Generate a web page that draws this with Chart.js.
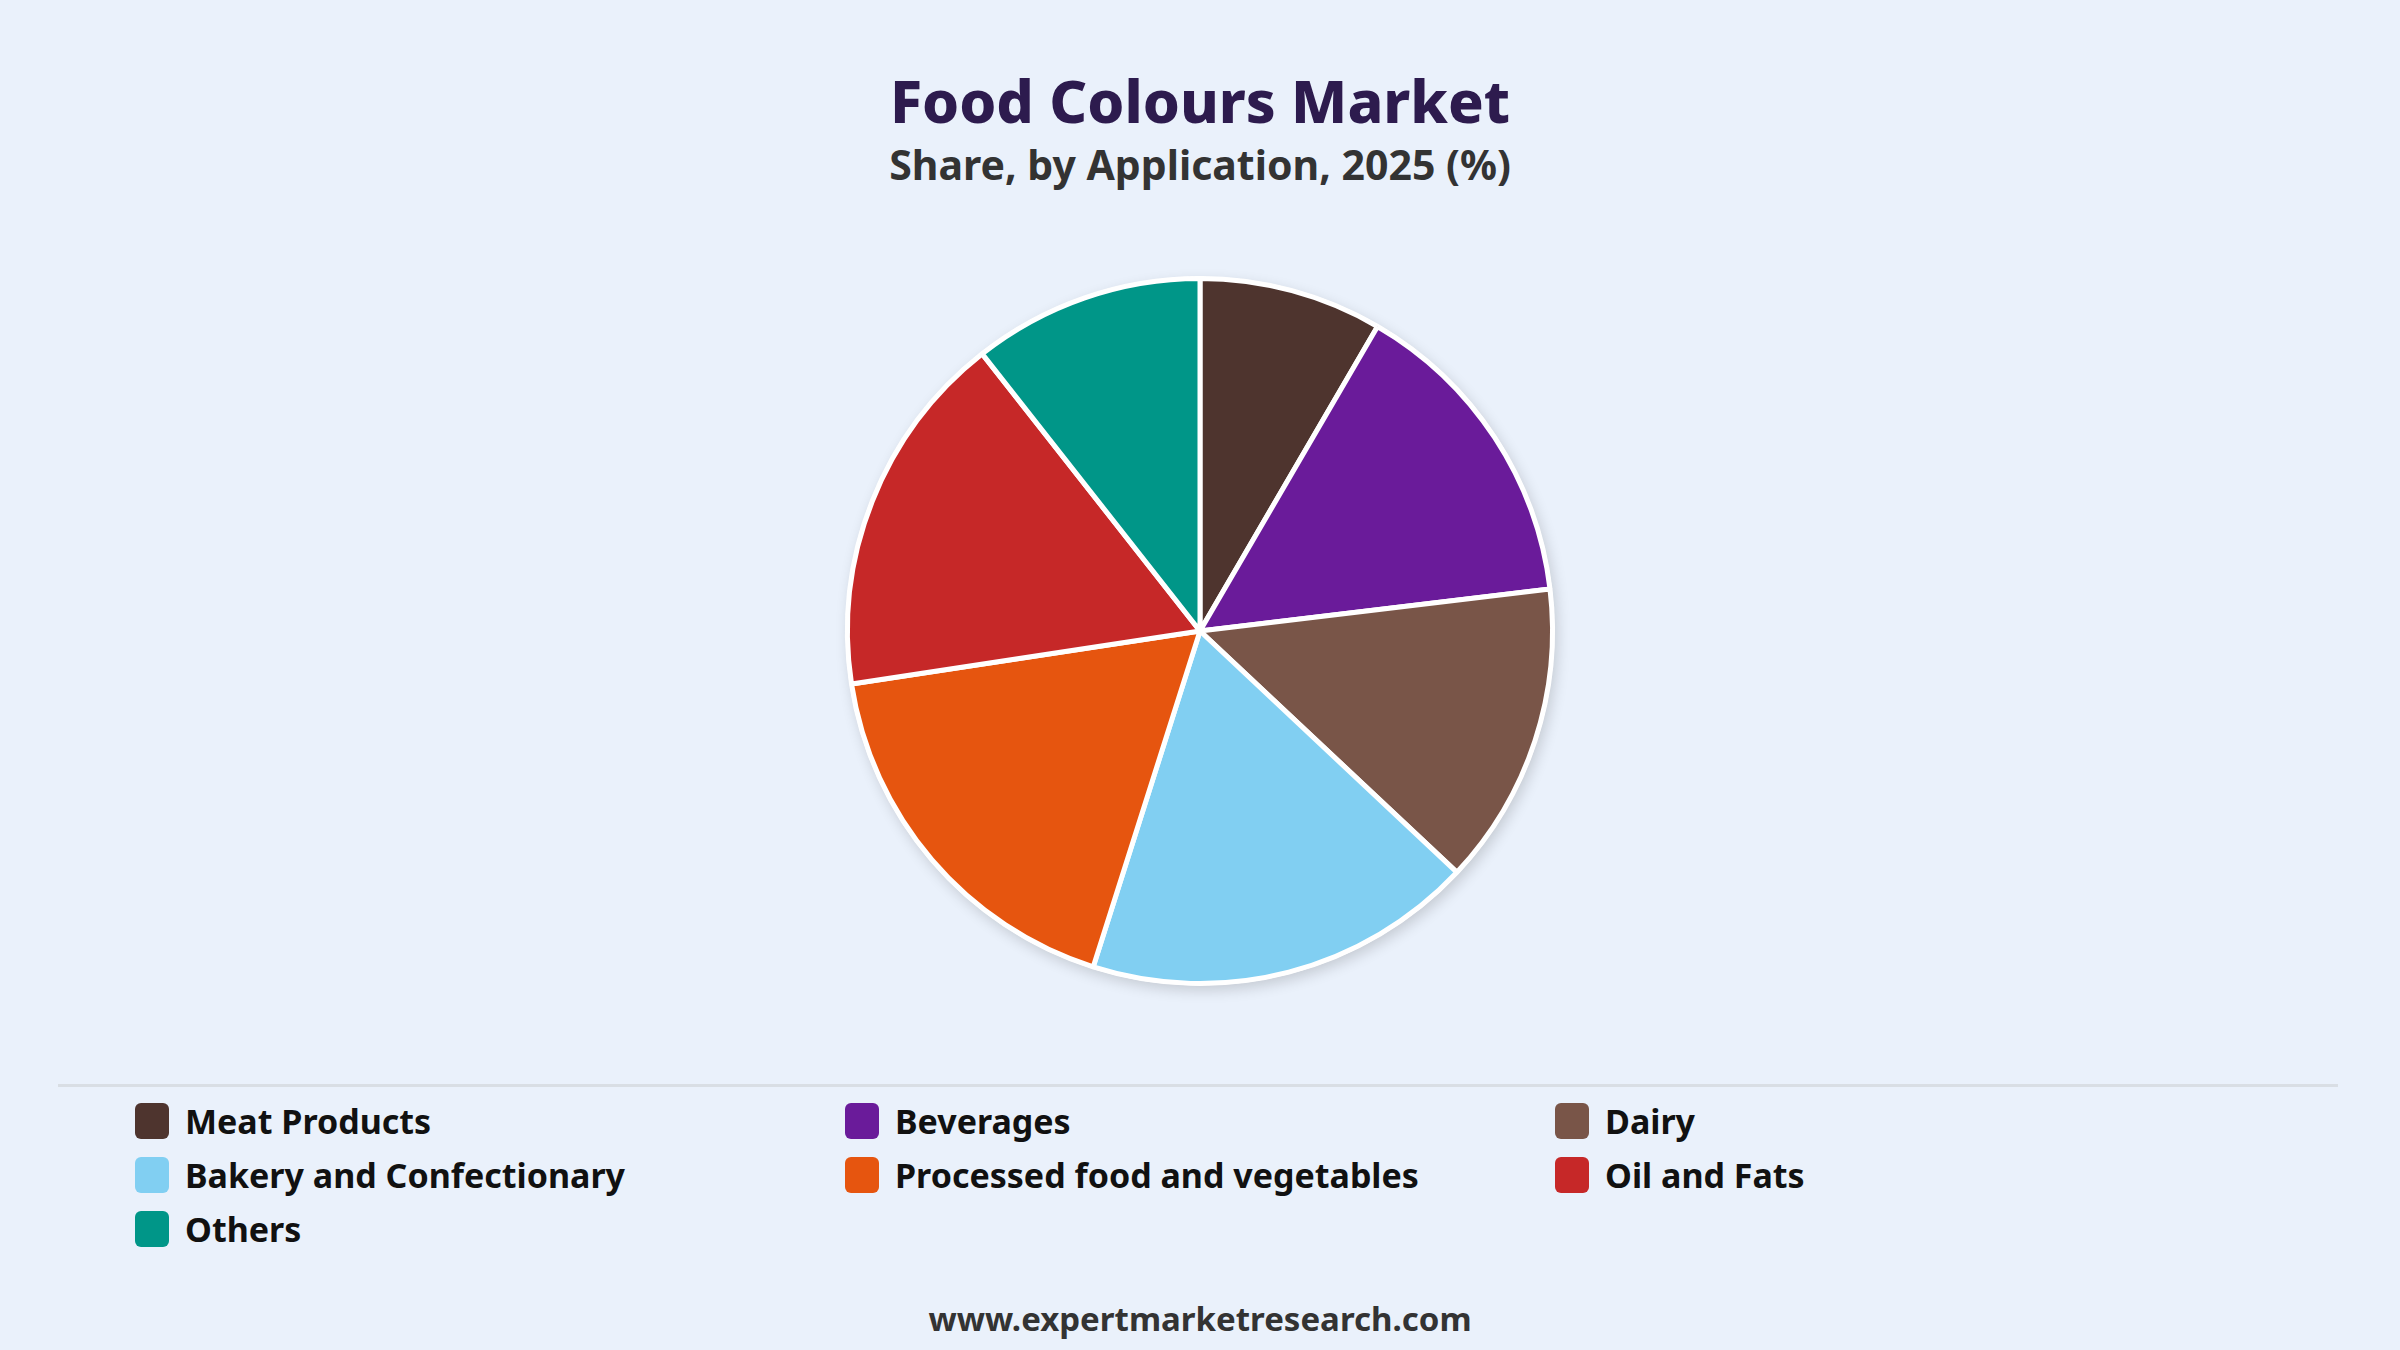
<!DOCTYPE html>
<html>
<head>
<meta charset="utf-8">
<script src="https://cdn.jsdelivr.net/npm/chart.js@4"></script>
<style>
    html, body { margin: 0; padding: 0; }
    body {
        width: 2400px;
        height: 1350px;
        background: #eaf1fb;
        position: relative;
        overflow: hidden;
        font-family: "Noto Sans", sans-serif;
    }
    #title {
        position: absolute; left: 0; width: 2400px; top: 60px;
        text-align: center; font-size: 59px; font-weight: 800; color: #2d1b4e;
        line-height: 80px;
    }
    #subtitle {
        position: absolute; left: 0; width: 2400px; top: 134px;
        text-align: center; font-size: 41px; font-weight: 700; color: #333;
        line-height: 60px;
    }
    #chartBox { position: absolute; left: 0; top: 236px; width: 2400px; height: 790px; }
    #sep {
        position: absolute; left: 58px; width: 2280px; top: 1084px; height: 3px;
        background: #d9dee4;
    }
    #legend { position: absolute; left: 135px; top: 1094px; width: 2200px; }
    .item {
        position: absolute; height: 54px; display: flex; align-items: center;
        font-size: 34px; font-weight: 700; color: #111;
    }
    .box { width: 34px; height: 36px; border-radius: 6px; margin-right: 16px; }
    #footer {
        position: absolute; left: 0; width: 2400px; top: 1296px;
        text-align: center; font-size: 33px; font-weight: 700; color: #333;
        line-height: 46px;
    }
</style>
</head>
<body>
<div id="title">Food Colours Market</div>
<div id="subtitle">Share, by Application, 2025 (%)</div>
<div id="chartBox"><canvas id="shareChart"></canvas></div>
<div id="sep"></div>
<div id="legend"></div>
<div id="footer">www.expertmarketresearch.com</div>
<script>
var applications = [
    "Meat Products",
    "Beverages",
    "Dairy",
    "Bakery and Confectionary",
    "Processed food and vegetables",
    "Oil and Fats",
    "Others"
];
var shares = [8.4, 14.7, 13.9, 17.9, 17.7, 16.8, 10.6];
var sliceColors = ["#4e342e", "#6a1b9a", "#795548", "#81cff2", "#e6550f", "#c62828", "#009688"];

document.addEventListener("DOMContentLoaded", function () {
    // html legend, 3 columns
    var legend = document.getElementById("legend");
    applications.forEach(function (name, i) {
        var item = document.createElement("div");
        item.className = "item";
        item.style.left = (i % 3) * 710 + "px";
        item.style.top = Math.floor(i / 3) * 54 + "px";
        item.innerHTML = '<span class="box" style="background:' + sliceColors[i] + '"></span>' + name;
        legend.appendChild(item);
    });

    // soft shadow behind the whole pie (drawn once, before the slices)
    var pieShadow = {
        id: "pieShadow",
        beforeDatasetsDraw: function (chart) {
            var arc = chart.getDatasetMeta(0).data[0];
            if (!arc) return;
            var c = chart.ctx;
            c.save();
            c.shadowColor = "rgba(0, 0, 0, 0.16)";
            c.shadowBlur = 14;
            c.shadowOffsetX = 3;
            c.shadowOffsetY = 5;
            c.fillStyle = "#ffffff";
            c.beginPath();
            c.arc(arc.x, arc.y, arc.outerRadius + 2, 0, Math.PI * 2);
            c.fill();
            c.restore();
        }
    };

    var ctx = document.getElementById("shareChart").getContext("2d");
    new Chart(ctx, {
        type: "pie",
        data: {
            labels: applications,
            datasets: [
                {
                    data: shares,
                    backgroundColor: sliceColors,
                    borderColor: "#ffffff",
                    borderWidth: 5,
                },
            ],
        },
        options: {
            responsive: true,
            maintainAspectRatio: false,
            animation: false,
            layout: { padding: 40 },
            plugins: {
                legend: { display: false },
                tooltip: { enabled: false },
            },
        },
        plugins: [pieShadow],
    });
});
</script>
</body>
</html>
